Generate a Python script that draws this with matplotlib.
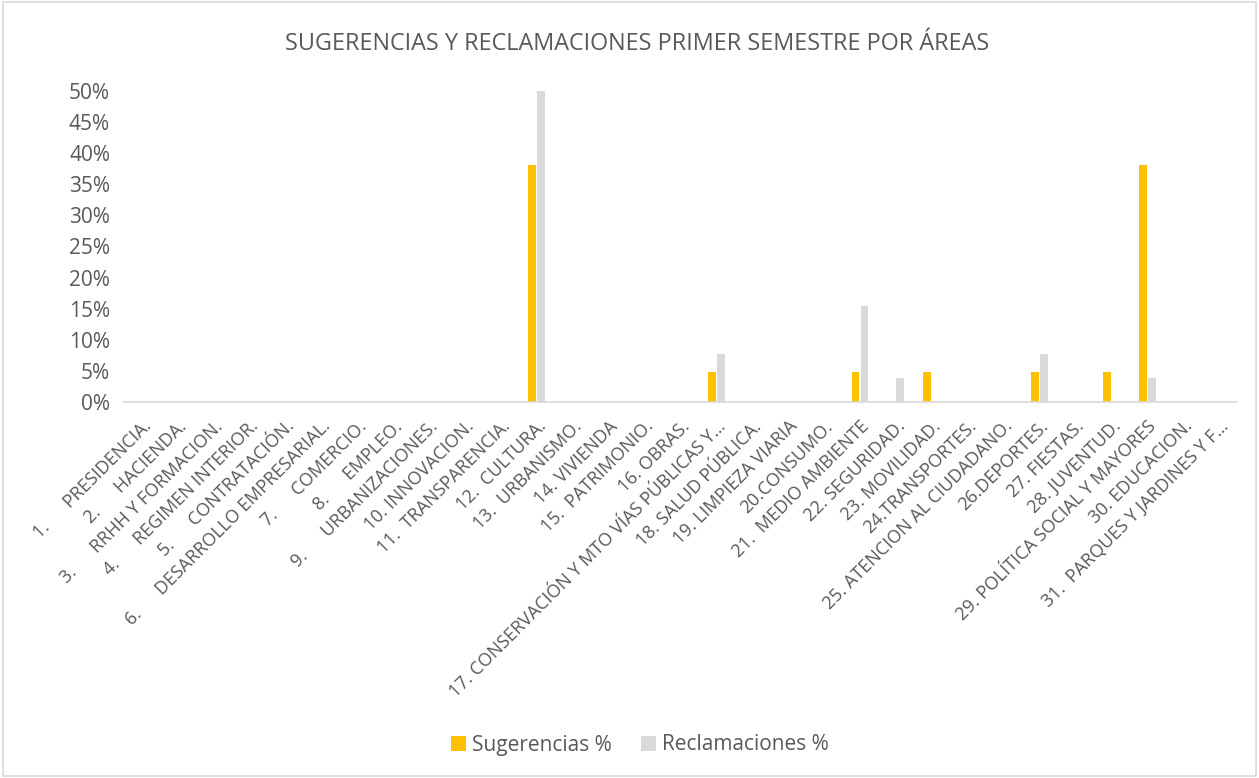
import numpy as np
import matplotlib
matplotlib.use('Agg')
import matplotlib.pyplot as plt
from matplotlib.ticker import PercentFormatter
from matplotlib.patches import Rectangle

plt.rcParams['font.family'] = ['Open Sans', 'DejaVu Sans']

areas = [
    "1.      PRESIDENCIA.", "2.      HACIENDA.", "3.      RRHH Y FORMACION.",
    "4.      REGIMEN INTERIOR.", "5.      CONTRATACIÓN.", "6.      DESARROLLO EMPRESARIAL.",
    "7.      COMERCIO.", "8.      EMPLEO.", "9.      URBANIZACIONES.",
    "10. INNOVACION.", "11.  TRANSPARENCIA.", "12.  CULTURA.", "13.  URBANISMO.",
    "14. VIVIENDA", "15.  PATRIMONIO.", "16. OBRAS.",
    "17. CONSERVACIÓN Y MTO VÍAS PÚBLICAS Y…", "18. SALUD PÚBLICA.",
    "19. LIMPIEZA VIARIA", "20.CONSUMO.", "21.  MEDIO AMBIENTE", "22. SEGURIDAD.",
    "23. MOVILIDAD.", "24.TRANSPORTES.", "25. ATENCION AL CIUDADANO.",
    "26.DEPORTES.", "27. FIESTAS.", "28. JUVENTUD.", "29. POLÍTICA SOCIAL Y MAYORES",
    "30. EDUCACION.", "31.  PARQUES Y JARDINES Y F…",
]

# porcentajes (0-1)
sugerencias = [0, 0, 0, 0, 0, 0, 0, 0, 0, 0, 0, 0.381, 0, 0, 0, 0,
               0.0476, 0, 0, 0, 0.0476, 0, 0.0476, 0, 0, 0.0476, 0, 0.0476, 0.381, 0, 0]
reclamaciones = [0, 0, 0, 0, 0, 0, 0, 0, 0, 0, 0, 0.50, 0, 0, 0, 0,
                 0.0769, 0, 0, 0, 0.1538, 0.0385, 0, 0, 0, 0.0769, 0, 0, 0.0385, 0, 0]

amarillo = '#FFC000'
gris = '#D9D9D9'
texto = '#595959'

fig = plt.figure(figsize=(12.59, 7.78), dpi=100)
ax = fig.add_axes([124/1259, 1 - 402/778, (1237-124)/1259, (402-91)/778])

x = np.arange(len(areas))
w = 0.22
ax.bar(x - w/2 - 0.015, sugerencias, w, color=amarillo, label='Sugerencias %')
ax.bar(x + w/2 + 0.015, reclamaciones, w, color=gris, label='Reclamaciones %')

ax.set_xlim(-0.5, len(areas) - 0.5)
ax.set_ylim(0, 0.5)
ax.set_yticks(np.arange(0, 0.51, 0.05))
ax.yaxis.set_major_formatter(PercentFormatter(1.0, decimals=0))
ax.set_xticks(x)
ax.set_xticklabels(areas, rotation=45, ha='right', rotation_mode='anchor')
ax.tick_params(axis='both', length=0, colors=texto)
ax.tick_params(axis='y', pad=10, labelsize=15)
ax.tick_params(axis='x', pad=11, labelsize=13)

for s in ['top', 'right', 'left']:
    ax.spines[s].set_visible(False)
ax.spines['bottom'].set_color(gris)
ax.spines['bottom'].set_linewidth(1.2)

fig.text(637/1259, 1 - 44/778, 'SUGERENCIAS Y RECLAMACIONES PRIMER SEMESTRE POR ÁREAS',
         ha='center', va='center', fontsize=16.8, color=texto)

fig.legend(loc='center', bbox_to_anchor=(640/1259, 1 - 745/778), ncol=2, frameon=False,
           fontsize=15, labelcolor=texto, handlelength=0.7, handleheight=0.7,
           columnspacing=1.4, handletextpad=0.3)

fig.patches.append(Rectangle((0.002, 0.002), 0.996, 0.996, transform=fig.transFigure,
                             fill=False, edgecolor=gris, linewidth=1.2))

fig.savefig('out.png', dpi=100, facecolor='white')
